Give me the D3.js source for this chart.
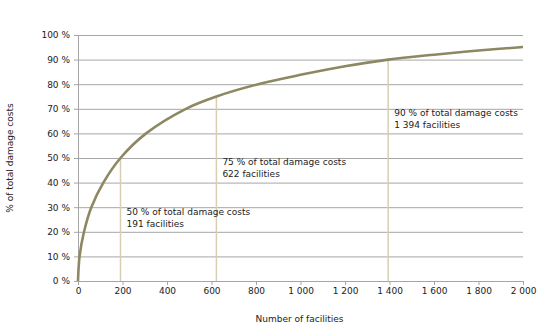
<!DOCTYPE html>
<meta charset="utf-8">
<style>
    body { margin: 0; background: #fff; }
    text { font-family: "DejaVu Sans", Verdana, sans-serif; font-size: 9px; fill: #222; }
    .grid line { stroke: #a6a6a6; stroke-width: 1px; }
    .axis path, .axis line { stroke: #a6a6a6; }
    .curve { fill: none; stroke: #8d8762; stroke-width: 2.6px; }
    .marker { stroke: #d6cfb2; stroke-width: 1.5px; }
</style>
<svg width="558" height="335"></svg>
<script src="https://d3js.org/d3.v7.min.js"></script>
<script>
    // cumulative share of damage costs vs. number of facilities
    var facilities = [0, 7, 27, 60, 114, 191, 306, 485, 622, 810, 1000, 1200, 1394, 1600, 1800, 2000];
    var shares     = [0, 10, 20, 30, 40, 50, 60, 70, 75, 80, 83.8, 87.3, 90, 92, 93.7, 95.1];

    var xTicks = [0, 200, 400, 600, 800, 1000, 1200, 1400, 1600, 1800, 2000];
    var yTicks = [0, 10, 20, 30, 40, 50, 60, 70, 80, 90, 100];

    var markFacilities = [191, 622, 1394];
    var markShares = [50, 75, 90];
    var markLabels = [
        ["50 % of total damage costs", "191 facilities"],
        ["75 % of total damage costs", "622 facilities"],
        ["90 % of total damage costs", "1 394 facilities"]
    ];
    // where each label block sits (in % units on the y scale)
    var labelAt = [26.8, 47.1, 67.1];

    var svg = d3.select("svg"),
        margin = { top: 35, right: 35, bottom: 54, left: 78 },
        width = +svg.attr("width") - margin.left - margin.right,
        height = +svg.attr("height") - margin.top - margin.bottom,
        g = svg.append("g").attr("transform", "translate(" + margin.left + "," + margin.top + ")");

    var x = d3.scaleLinear().domain([0, 2000]).range([0, width]);
    var y = d3.scaleLinear().domain([0, 100]).range([height, 0]);

    var fmt = function (d) { return d3.format(",")(d).replace(/,/g, " "); };

    // horizontal gridlines
    g.append("g")
        .attr("class", "grid")
        .selectAll("line")
        .data(yTicks.slice(1))
        .enter().append("line")
        .attr("x1", 0)
        .attr("x2", width)
        .attr("y1", function (d) { return y(d) + 0.5; })
        .attr("y2", function (d) { return y(d) + 0.5; });

    var yAxis = g.append("g")
        .attr("class", "axis")
        .call(d3.axisLeft(y).tickValues(yTicks).tickSize(4).tickPadding(4)
            .tickFormat(function (d) { return d + " %"; }));
    yAxis.select(".domain").remove();
    yAxis.append("line").attr("x1", 0.5).attr("x2", 0.5).attr("y1", 0).attr("y2", height);

    var xAxis = g.append("g")
        .attr("class", "axis")
        .attr("transform", "translate(0," + height + ")")
        .call(d3.axisBottom(x).tickValues(xTicks).tickSize(4).tickPadding(3).tickFormat(fmt));
    xAxis.select(".domain").attr("d", "M0,0.5H" + width);

    svg.selectAll(".axis text").attr("fill", "#222").attr("font-family", null).attr("font-size", null);

    // vertical reference lines
    g.append("g")
        .selectAll("line")
        .data(markFacilities)
        .enter().append("line")
        .attr("class", "marker")
        .attr("x1", function (d) { return x(d); })
        .attr("x2", function (d) { return x(d); })
        .attr("y1", function (d, i) { return y(markShares[i]); })
        .attr("y2", height);

    var line = d3.line()
        .x(function (d) { return x(d[0]); })
        .y(function (d) { return y(d[1]); })
        .curve(d3.curveCatmullRom.alpha(0.5));

    g.append("path")
        .attr("class", "curve")
        .attr("d", line(d3.zip(facilities, shares)));

    // annotations
    var ann = g.append("g")
        .selectAll("text")
        .data(markLabels)
        .enter().append("text")
        .attr("x", function (d, i) { return x(markFacilities[i]) + 6; })
        .attr("y", function (d, i) { return y(labelAt[i]); });
    ann.selectAll("tspan")
        .data(function (d) { return d; })
        .enter().append("tspan")
        .attr("x", function () { return this.parentNode.getAttribute("x"); })
        .attr("dy", function (d, i) { return i ? 12 : 0; })
        .text(function (d) { return d; });

    // axis titles
    svg.append("text")
        .attr("text-anchor", "middle")
        .attr("x", margin.left + width / 2 - 1)
        .attr("y", 322)
        .text("Number of facilities");

    svg.append("text")
        .attr("text-anchor", "middle")
        .attr("transform", "translate(13," + (margin.top + height / 2) + ")rotate(-90)")
        .text("% of total damage costs");
</script>
